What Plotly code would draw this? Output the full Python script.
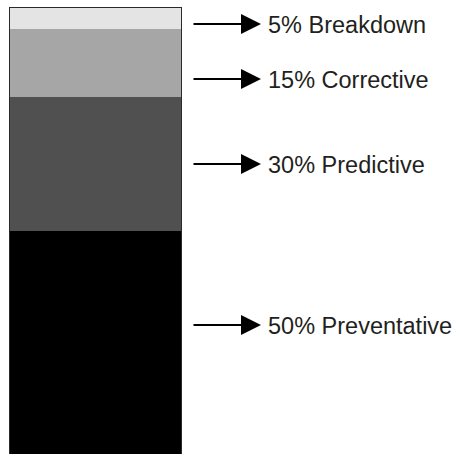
import plotly.graph_objects as go

# Maintenance strategy mix (percent of total), bottom of the stack first
categories = ["Preventative", "Predictive", "Corrective", "Breakdown"]
shares = [50, 30, 15, 5]
fills = ["#000000", "#505050", "#a6a6a6", "#e4e4e4"]

# Callout rows, top to bottom (pixel rows of the arrows in the page)
callout_order = ["Breakdown", "Corrective", "Predictive", "Preventative"]
callout_rows = [24, 79, 164, 325]

W, H = 459, 454
px = lambda v: v / W
py = lambda v: 1 - v / H

fig = go.Figure()
for name, val, col in zip(categories, shares, fills):
    fig.add_trace(go.Bar(
        x=[0], y=[val], name=name, width=1,
        marker=dict(color=col, line=dict(width=0)),
        hoverinfo="name+y",
    ))

total = sum(shares)
# outline around the whole column
fig.add_shape(type="rect", xref="x", yref="y", x0=-0.5, x1=0.5, y0=0, y1=total,
              line=dict(color="#2a2a2a", width=2), fillcolor="rgba(0,0,0,0)")

lookup = dict(zip(categories, shares))
annotations = []
for name, row in zip(callout_order, callout_rows):
    annotations.append(dict(
        xref="paper", yref="paper", x=px(261), y=py(row), text="",
        showarrow=True, ax=-69, ay=0, arrowhead=2, arrowsize=2.0,
        arrowwidth=2, arrowcolor="#000000", standoff=0,
    ))
    annotations.append(dict(
        xref="paper", yref="paper", x=px(267), y=py(row + 1),
        xanchor="left", yanchor="middle", showarrow=False, borderpad=0,
        text=f"{lookup[name]}% {name}",
        font=dict(family="Liberation Sans, Arial, Helvetica, sans-serif",
                  size=23.5, color="#231f20"),
    ))

fig.update_layout(
    width=W, height=H,
    margin=dict(l=0, r=0, t=0, b=0),
    barmode="stack", bargap=0,
    showlegend=False,
    plot_bgcolor="white", paper_bgcolor="white",
    xaxis=dict(domain=[px(9), px(182)], range=[-0.5, 0.5], visible=False),
    # column runs past the bottom edge of the page
    yaxis=dict(domain=[0, py(7)], range=[0.4, total], visible=False),
    annotations=annotations,
)

fig.write_html("out.html")
